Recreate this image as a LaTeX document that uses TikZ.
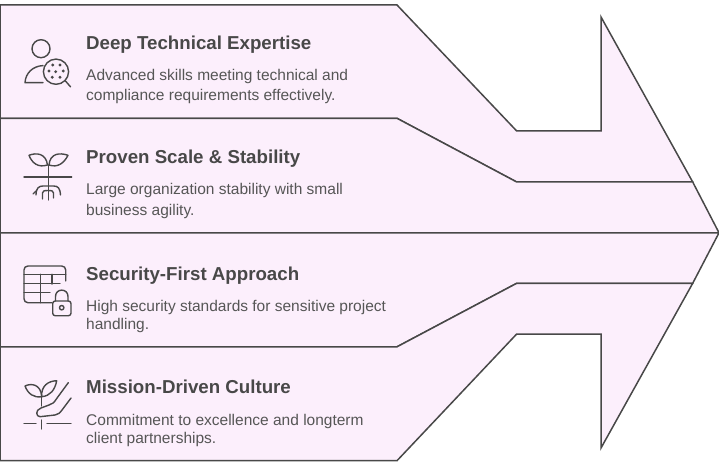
\documentclass[tikz,border=0pt]{standalone}
\usepackage{fontspec}
\setmainfont{Liberation Sans}
\definecolor{bandfill}{HTML}{FCEFFC}
\definecolor{ink}{HTML}{484848}
\definecolor{bodyink}{HTML}{565656}
\tikzset{
  band/.style={fill=bandfill,draw=ink,line width=1.5pt,line join=miter},
  icon/.style={draw=ink,line width=1.4pt,line cap=round,line join=round},
  icondot/.style={fill=ink,draw=none},
  titletext/.style={anchor=base west,inner sep=0pt,text=ink,font=\fontsize{18.7}{20}\selectfont\bfseries},
  bodytext/.style={anchor=base west,inner sep=0pt,text=bodyink,font=\fontsize{15.5}{16}\selectfont},
}
\begin{document}
\begin{tikzpicture}[x=1pt,y=-1pt]
\useasboundingbox (0,0) rectangle (719,462);
\fill[white] (0,0) rectangle (719,462);
% bands of the arrow
\path[band] (0,5) -- (397,5) -- (516.7,131) -- (601,131) -- (601,17) -- (692.7,182) -- (516.7,182) -- (397,118.3) -- (0,118.3) -- cycle;
\path[band] (0,118.3) -- (397,118.3) -- (516.7,182) -- (692.7,182) -- (719,232.8) -- (0,232.8) -- cycle;
\path[band] (0,232.8) -- (719,232.8) -- (692.7,283.3) -- (516.7,283.3) -- (397,346.8) -- (0,346.8) -- cycle;
\path[band] (0,346.8) -- (397,346.8) -- (516.7,283.3) -- (692.7,283.3) -- (601,448) -- (601,334) -- (516.7,334) -- (397,460.7) -- (0,460.7) -- cycle;
% texts
\node[titletext] (t1) at (86,50) {Deep Technical Expertise};
\node[bodytext] (d1a) at (86,81) {Advanced skills meeting technical and};
\node[bodytext] (d1b) at (86,101) {compliance requirements effectively.};
\node[titletext] (t2) at (86,163.5) {Proven Scale \& Stability};
\node[bodytext] (d2a) at (86,195) {Large organization stability with small};
\node[bodytext] (d2b) at (86,215) {business agility.};
\node[titletext] (t3) at (86,280) {Security-First Approach};
\node[bodytext] (d3a) at (86,311) {High security standards for sensitive project};
\node[bodytext] (d3b) at (86,329) {handling.};
\node[titletext] (t4) at (86,393) {Mission-Driven Culture};
\node[bodytext] (d4a) at (86,425) {Commitment to excellence and longterm};
\node[bodytext] (d4b) at (86,443) {client partnerships.};
% icon 1: person with magnifier
\draw[icon] (41,48.7) circle[radius=9];
\draw[icon] (43,82.7) -- (25,82.7) .. controls (25.5,73) and (33,66) .. (43,65.6);
\draw[icon] (56,71.7) circle[radius=12.6];
\draw[icon] (65.3,80.8) -- (70.5,86.8);
\foreach \px/\py in {52.7/65,60/65,49/71,55.7/71.7,63.3/71,52.3/77.3,60/77.3}
  \fill[icondot] (\px,\py) circle[radius=1.6];
% icon 2: seedling with roots
\draw[icon] (48.3,165) -- (48.3,200);
\draw[icon] (24,177) -- (71.7,177);
\draw[icon] (29,155.3) .. controls (36,152.5) and (46,153) .. (47.5,165) .. controls (38,168) and (32,163) .. (29,155.3);
\draw[icon] (68,155.3) .. controls (60,152.5) and (50,153) .. (49,165) .. controls (58,168) and (64,163) .. (68,155.3);
\draw[icon] (36,195) .. controls (36,188) and (39,186) .. (43,186) -- (53.5,186) .. controls (58,186) and (60,188) .. (60.5,195);
\draw[icon] (42.5,199) -- (42.5,193) .. controls (42.5,191) and (44,190.5) .. (48,190.5) .. controls (52,190.5) and (53.5,191) .. (53.5,193) -- (53.5,198);
\draw[icon] (33,194) -- (36,191);
% icon 3: table with lock
\draw[icon] (52,302.7) -- (28,302.7) .. controls (25.5,302.7) and (24,301) .. (24,298.7) -- (24,270) .. controls (24,267.7) and (25.5,266) .. (28,266) -- (61.7,266) .. controls (64,266) and (65.7,267.7) .. (65.7,270) -- (65.7,281);
\draw[icon] (24,274.3) -- (65.7,274.3);
\draw[icon] (24,283.3) -- (60,283.3);
\draw[icon] (24,292.3) -- (50,292.3);
\draw[icon] (40.7,274.3) -- (40.7,302.7);
\draw[icon] (52,274.3) -- (52,284);
\draw[icon,rounded corners=2.5pt] (52.7,301) rectangle (71,315.7);
\draw[icon] (55.5,301) -- (55.5,296.5) .. controls (55.5,288) and (68,288) .. (68,296.5) -- (68,301);
\draw[icon] (61.7,307.7) circle[radius=2.2];
% icon 4: hand and plant
\draw[icon] (25,386) .. controls (31,383) and (41,384) .. (41.7,396.7) .. controls (34,398) and (28,394) .. (25,386);
\draw[icon] (56.7,380.7) .. controls (48,381) and (41,386) .. (41.7,396.7) .. controls (50,396) and (55,390) .. (56.7,380.7);
\draw[icon] (41.7,396.7) -- (41.7,406);
\draw[icon] (68.3,382.7) -- (56.7,398.5) .. controls (54,403) and (52,404) .. (49,405) -- (41,408) .. controls (35,410) and (36,416.7) .. (40,416.7) -- (55,415) .. controls (58,414.5) and (60,413) .. (62,410) -- (71,398);
\draw[icon] (24,423.7) -- (36,423.7);
\draw[icon] (47,423.7) -- (71,423.7);
\draw[icon] (41.3,420) -- (41.3,429);
\end{tikzpicture}
\end{document}
